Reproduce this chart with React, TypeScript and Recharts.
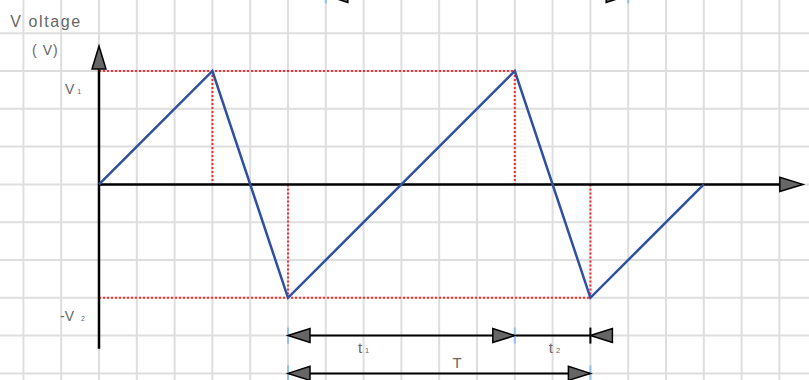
import React from "react";
import { ComposedChart, Line, XAxis, YAxis, ReferenceLine, ReferenceDot } from "recharts";

// grid units: one cell = 1
const X_MIN = -2.619;
const X_MAX = 18.783;
const Y_MIN = -5.175;
const Y_MAX = 4.878;

const GRID_X = [-2, -1, 0, 1, 2, 3, 4, 5, 6, 7, 8, 9, 10, 11, 12, 13, 14, 15, 16, 17, 18];
const GRID_Y = [-5, -4, -3, -2, -1, 0, 1, 2, 3, 4];

// sawtooth waveform
const waveT = [0, 3, 5, 11, 13, 16];
const waveV = [0, 3, -3, 3, -3, 0];

const V1 = 3;
const V2 = -3;
const peakT = [3, 11];
const troughT = [5, 13];

// dimension rows
const ROW_T1 = -4;
const ROW_T = -5;
const ROW_TOP = 5;

const data = waveT.map((t, i) => ({ x: t, v: waveV[i] }));

const TEXT = "#666";
const FONT = "'Liberation Sans', Arial, sans-serif";

type Dir = "left" | "right" | "up";

function arrowShape(dir: Dir, len = 22, half = 7) {
  return (p: any) => {
    const { cx, cy } = p;
    let pts = "";
    if (dir === "left") pts = `${cx},${cy} ${cx + len},${cy - half} ${cx + len},${cy + half}`;
    if (dir === "right") pts = `${cx},${cy} ${cx - len},${cy - half} ${cx - len},${cy + half}`;
    if (dir === "up") pts = `${cx},${cy} ${cx - half},${cy + len} ${cx + half},${cy + len}`;
    return <polygon points={pts} fill="#666" stroke="#000" strokeWidth={1.5} strokeLinejoin="miter" />;
  };
}

function textShape(main: string, sub?: string, size = 15, anchor: "start" | "middle" = "start", spacing = 0) {
  return (p: any) => (
    <text x={p.cx} y={p.cy} fill={TEXT} fontSize={size} fontFamily={FONT} textAnchor={anchor} letterSpacing={spacing}>
      {main}
      {sub ? (
        <tspan fontSize={size * 0.5} dx={3}>
          {sub}
        </tspan>
      ) : null}
    </text>
  );
}

function tickShape(color: string) {
  return (p: any) => <line x1={p.cx} x2={p.cx} y1={p.cy - 8} y2={p.cy + 8} stroke={color} strokeWidth={2} />;
}

export default function App() {
  return (
    <div style={{ position: "absolute", left: 0, top: 0, width: 809, height: 380, background: "#fff" }}>
      <ComposedChart width={809} height={380} data={data} margin={{ top: 0, right: 0, bottom: 0, left: 0 }}>
        <XAxis type="number" dataKey="x" domain={[X_MIN, X_MAX]} allowDataOverflow hide />
        <YAxis type="number" domain={[Y_MIN, Y_MAX]} allowDataOverflow hide />

        {GRID_X.map((g) => (
          <ReferenceLine key={"gx" + g} x={g} stroke="#dedede" strokeWidth={2} />
        ))}
        {GRID_Y.map((g) => (
          <ReferenceLine key={"gy" + g} y={g} stroke="#dedede" strokeWidth={2} />
        ))}

        {/* red guides */}
        <ReferenceLine segment={[{ x: 0, y: V1 }, { x: peakT[1], y: V1 }]} stroke="#ff2a2a" strokeWidth={2} strokeDasharray="2 2" />
        <ReferenceLine segment={[{ x: 0, y: V2 }, { x: troughT[1], y: V2 }]} stroke="#ff2a2a" strokeWidth={2} strokeDasharray="2 2" />
        {peakT.map((t) => (
          <ReferenceLine key={"pk" + t} segment={[{ x: t, y: V1 }, { x: t, y: 0 }]} stroke="#ff2a2a" strokeWidth={2} strokeDasharray="2 2" />
        ))}
        {troughT.map((t) => (
          <ReferenceLine key={"tr" + t} segment={[{ x: t, y: 0 }, { x: t, y: V2 }]} stroke="#ff2a2a" strokeWidth={2} strokeDasharray="2 2" />
        ))}

        {/* axes */}
        <ReferenceLine segment={[{ x: 0, y: -4.35 }, { x: 0, y: 3.1 }]} stroke="#000" strokeWidth={2.5} />
        <ReferenceLine segment={[{ x: 0, y: 0 }, { x: 18.05, y: 0 }]} stroke="#000" strokeWidth={2.5} />
        <ReferenceDot x={0} y={3.66} r={1} shape={arrowShape("up", 23, 7)} />
        <ReferenceDot x={18.62} y={0} r={1} shape={arrowShape("right", 23, 7)} />

        <Line
          type="linear"
          dataKey="v"
          stroke="#2f4fa0"
          strokeWidth={2.5}
          dot={false}
          activeDot={false}
          isAnimationActive={false}
        />

        {/* dimension lines */}
        <ReferenceLine segment={[{ x: troughT[0], y: ROW_T1 }, { x: troughT[1], y: ROW_T1 }]} stroke="#000" strokeWidth={2} />
        <ReferenceLine segment={[{ x: troughT[0], y: ROW_T }, { x: troughT[1], y: ROW_T }]} stroke="#000" strokeWidth={2} />
        <ReferenceLine segment={[{ x: 6, y: ROW_TOP }, { x: 14, y: ROW_TOP }]} stroke="#000" strokeWidth={2} ifOverflow="visible" />

        <ReferenceDot x={troughT[0]} y={ROW_T1} r={1} shape={tickShape("#8fc3e8")} />
        <ReferenceDot x={peakT[1]} y={ROW_T1} r={1} shape={tickShape("#8fc3e8")} />
        <ReferenceDot x={troughT[1]} y={ROW_T1} r={1} shape={tickShape("#000")} />
        <ReferenceDot x={troughT[0]} y={ROW_T} r={1} shape={tickShape("#8fc3e8")} />
        <ReferenceDot x={troughT[1]} y={ROW_T} r={1} shape={tickShape("#8fc3e8")} />
        <ReferenceDot x={6} y={ROW_TOP} r={1} ifOverflow="visible" shape={tickShape("#8fc3e8")} />
        <ReferenceDot x={14} y={ROW_TOP} r={1} ifOverflow="visible" shape={tickShape("#8fc3e8")} />

        <ReferenceDot x={troughT[0]} y={ROW_T1} r={1} shape={arrowShape("left")} />
        <ReferenceDot x={peakT[1]} y={ROW_T1} r={1} shape={arrowShape("right")} />
        <ReferenceDot x={troughT[1]} y={ROW_T1} r={1} shape={arrowShape("left")} />
        <ReferenceDot x={troughT[0]} y={ROW_T} r={1} shape={arrowShape("left")} />
        <ReferenceDot x={troughT[1]} y={ROW_T} r={1} shape={arrowShape("right")} />
        <ReferenceDot x={6} y={ROW_TOP} r={1} ifOverflow="visible" shape={arrowShape("left")} />
        <ReferenceDot x={14} y={ROW_TOP} r={1} ifOverflow="visible" shape={arrowShape("right")} />

        {/* labels */}
        <ReferenceDot x={-2.35} y={4.16} r={1} shape={textShape("V oltage", undefined, 16, "start", 1.6)} />
        <ReferenceDot x={-1.77} y={3.42} r={1} shape={textShape("( V)", undefined, 14, "start", 1)} />
        <ReferenceDot x={-0.9} y={2.39} r={1} shape={textShape("V", "1", 14)} />
        <ReferenceDot x={-1.03} y={-3.61} r={1} shape={textShape("-V ", "2", 14)} />
        <ReferenceDot x={6.85} y={-4.46} r={1} shape={textShape("t", "1", 15)} />
        <ReferenceDot x={11.9} y={-4.46} r={1} shape={textShape("t", "2", 15)} />
        <ReferenceDot x={9.47} y={-4.86} r={1} shape={textShape("T", undefined, 15, "middle")} />
      </ComposedChart>
    </div>
  );
}
